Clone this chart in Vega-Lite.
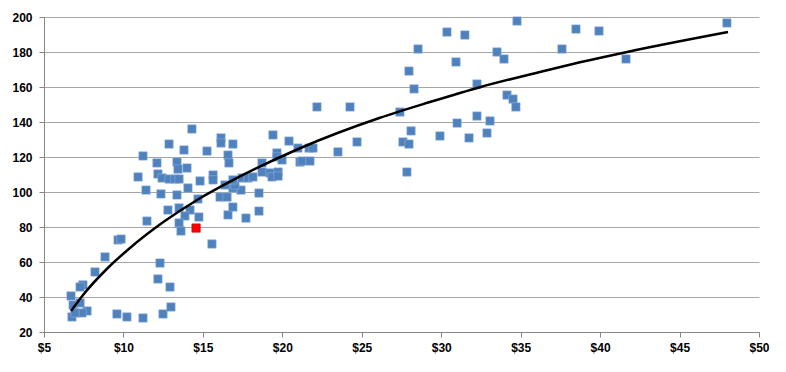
{
  "$schema": "https://vega.github.io/schema/vega-lite/v6.json",
  "width": 715,
  "height": 315,
  "autosize": {"type": "none"},
  "padding": {"left": 44, "top": 17, "right": 27, "bottom": 40},
  "background": "white",
  "config": {
    "view": {"stroke": null},
    "axis": {
      "labelFont": "Liberation Sans",
      "labelFontWeight": "bold",
      "labelFontSize": 12,
      "labelColor": "#000000",
      "labelOverlap": false,
      "labelBound": false,
      "labelFlush": false,
      "domainColor": "#868686",
      "tickColor": "#868686",
      "gridColor": "#A6A6A6",
      "title": null
    }
  },
  "datasets": {
    "points": [
      {"price": 6.70, "value": 40.6, "group": "base"},
      {"price": 6.83, "value": 35.4, "group": "base"},
      {"price": 7.27, "value": 36.6, "group": "base"},
      {"price": 7.71, "value": 32.0, "group": "base"},
      {"price": 7.39, "value": 30.9, "group": "base"},
      {"price": 6.76, "value": 28.6, "group": "base"},
      {"price": 6.95, "value": 30.9, "group": "base"},
      {"price": 7.45, "value": 46.9, "group": "base"},
      {"price": 7.27, "value": 45.7, "group": "base"},
      {"price": 8.21, "value": 54.3, "group": "base"},
      {"price": 8.84, "value": 62.9, "group": "base"},
      {"price": 9.66, "value": 72.6, "group": "base"},
      {"price": 9.85, "value": 73.1, "group": "base"},
      {"price": 9.59, "value": 30.3, "group": "base"},
      {"price": 10.22, "value": 28.6, "group": "base"},
      {"price": 11.23, "value": 28.0, "group": "base"},
      {"price": 12.49, "value": 30.3, "group": "base"},
      {"price": 12.99, "value": 34.3, "group": "base"},
      {"price": 12.30, "value": 59.4, "group": "base"},
      {"price": 12.17, "value": 50.3, "group": "base"},
      {"price": 12.93, "value": 45.7, "group": "base"},
      {"price": 14.31, "value": 136.0, "group": "base"},
      {"price": 12.87, "value": 127.4, "group": "base"},
      {"price": 13.81, "value": 124.0, "group": "base"},
      {"price": 15.26, "value": 123.4, "group": "base"},
      {"price": 16.14, "value": 130.9, "group": "base"},
      {"price": 16.14, "value": 128.0, "group": "base"},
      {"price": 16.89, "value": 127.4, "group": "base"},
      {"price": 11.23, "value": 120.6, "group": "base"},
      {"price": 12.11, "value": 116.6, "group": "base"},
      {"price": 13.37, "value": 117.1, "group": "base"},
      {"price": 13.43, "value": 113.1, "group": "base"},
      {"price": 14.00, "value": 113.7, "group": "base"},
      {"price": 10.92, "value": 108.6, "group": "base"},
      {"price": 12.17, "value": 110.3, "group": "base"},
      {"price": 12.43, "value": 108.0, "group": "base"},
      {"price": 12.87, "value": 107.4, "group": "base"},
      {"price": 13.24, "value": 107.4, "group": "base"},
      {"price": 13.50, "value": 107.4, "group": "base"},
      {"price": 14.82, "value": 106.3, "group": "base"},
      {"price": 15.64, "value": 109.7, "group": "base"},
      {"price": 15.64, "value": 106.9, "group": "base"},
      {"price": 16.58, "value": 121.1, "group": "base"},
      {"price": 16.64, "value": 116.6, "group": "base"},
      {"price": 11.42, "value": 101.1, "group": "base"},
      {"price": 12.36, "value": 98.9, "group": "base"},
      {"price": 13.37, "value": 98.3, "group": "base"},
      {"price": 14.06, "value": 102.3, "group": "base"},
      {"price": 14.69, "value": 96.0, "group": "base"},
      {"price": 12.80, "value": 89.7, "group": "base"},
      {"price": 13.50, "value": 90.9, "group": "base"},
      {"price": 14.19, "value": 89.7, "group": "base"},
      {"price": 13.87, "value": 86.3, "group": "base"},
      {"price": 14.75, "value": 85.7, "group": "base"},
      {"price": 11.48, "value": 83.4, "group": "base"},
      {"price": 13.50, "value": 82.3, "group": "base"},
      {"price": 13.62, "value": 77.7, "group": "base"},
      {"price": 15.57, "value": 70.3, "group": "base"},
      {"price": 16.08, "value": 97.1, "group": "base"},
      {"price": 16.52, "value": 97.1, "group": "base"},
      {"price": 16.58, "value": 86.9, "group": "base"},
      {"price": 16.89, "value": 91.4, "group": "base"},
      {"price": 17.71, "value": 85.1, "group": "base"},
      {"price": 18.53, "value": 89.1, "group": "base"},
      {"price": 17.40, "value": 101.1, "group": "base"},
      {"price": 18.53, "value": 99.4, "group": "base"},
      {"price": 16.89, "value": 102.3, "group": "base"},
      {"price": 16.39, "value": 104.0, "group": "base"},
      {"price": 17.02, "value": 104.0, "group": "base"},
      {"price": 16.89, "value": 106.9, "group": "base"},
      {"price": 17.46, "value": 108.0, "group": "base"},
      {"price": 17.84, "value": 108.0, "group": "base"},
      {"price": 18.15, "value": 108.6, "group": "base"},
      {"price": 18.72, "value": 111.4, "group": "base"},
      {"price": 19.22, "value": 110.9, "group": "base"},
      {"price": 19.35, "value": 108.6, "group": "base"},
      {"price": 19.73, "value": 111.4, "group": "base"},
      {"price": 19.73, "value": 109.1, "group": "base"},
      {"price": 18.72, "value": 116.6, "group": "base"},
      {"price": 19.41, "value": 132.6, "group": "base"},
      {"price": 19.66, "value": 122.3, "group": "base"},
      {"price": 19.66, "value": 120.0, "group": "base"},
      {"price": 19.98, "value": 118.3, "group": "base"},
      {"price": 20.42, "value": 129.1, "group": "base"},
      {"price": 20.98, "value": 125.1, "group": "base"},
      {"price": 21.11, "value": 117.1, "group": "base"},
      {"price": 21.68, "value": 125.1, "group": "base"},
      {"price": 21.93, "value": 125.1, "group": "base"},
      {"price": 21.24, "value": 117.7, "group": "base"},
      {"price": 21.74, "value": 117.7, "group": "base"},
      {"price": 22.18, "value": 148.6, "group": "base"},
      {"price": 24.26, "value": 148.6, "group": "base"},
      {"price": 23.50, "value": 122.9, "group": "base"},
      {"price": 24.70, "value": 128.6, "group": "base"},
      {"price": 27.40, "value": 145.7, "group": "base"},
      {"price": 28.29, "value": 158.9, "group": "base"},
      {"price": 28.10, "value": 134.9, "group": "base"},
      {"price": 27.59, "value": 128.6, "group": "base"},
      {"price": 27.97, "value": 127.4, "group": "base"},
      {"price": 27.84, "value": 111.4, "group": "base"},
      {"price": 27.97, "value": 169.1, "group": "base"},
      {"price": 28.54, "value": 181.7, "group": "base"},
      {"price": 30.36, "value": 191.4, "group": "base"},
      {"price": 31.49, "value": 189.7, "group": "base"},
      {"price": 30.93, "value": 174.3, "group": "base"},
      {"price": 33.51, "value": 180.0, "group": "base"},
      {"price": 33.95, "value": 176.0, "group": "base"},
      {"price": 34.77, "value": 197.7, "group": "base"},
      {"price": 32.25, "value": 161.7, "group": "base"},
      {"price": 34.14, "value": 155.4, "group": "base"},
      {"price": 34.52, "value": 153.1, "group": "base"},
      {"price": 34.70, "value": 148.6, "group": "base"},
      {"price": 29.92, "value": 132.0, "group": "base"},
      {"price": 31.00, "value": 139.4, "group": "base"},
      {"price": 32.25, "value": 143.4, "group": "base"},
      {"price": 33.07, "value": 140.6, "group": "base"},
      {"price": 31.75, "value": 130.9, "group": "base"},
      {"price": 32.88, "value": 133.7, "group": "base"},
      {"price": 37.60, "value": 181.7, "group": "base"},
      {"price": 38.48, "value": 193.1, "group": "base"},
      {"price": 39.93, "value": 192.0, "group": "base"},
      {"price": 41.63, "value": 176.0, "group": "base"},
      {"price": 47.98, "value": 196.6, "group": "base"},
      {"price": 14.57, "value": 79.4, "group": "highlight"}
    ],
    "trend": [
      {"price": 6.70, "value": 32.0},
      {"price": 7.47, "value": 41.3},
      {"price": 8.95, "value": 56.0},
      {"price": 10.41, "value": 68.0},
      {"price": 12.51, "value": 82.8},
      {"price": 14.61, "value": 95.3},
      {"price": 16.71, "value": 105.9},
      {"price": 21.11, "value": 125.0},
      {"price": 26.15, "value": 142.4},
      {"price": 29.29, "value": 151.4},
      {"price": 32.44, "value": 159.9},
      {"price": 36.21, "value": 168.6},
      {"price": 38.73, "value": 174.1},
      {"price": 41.63, "value": 179.9},
      {"price": 48.05, "value": 191.4}
    ]
  },
  "layer": [
    {
      "data": {"name": "points"},
      "mark": {"type": "point", "shape": "square", "filled": true, "size": 70, "opacity": 1, "strokeWidth": 0.6},
      "encoding": {
        "x": {
          "field": "price", "type": "quantitative",
          "scale": {"domain": [5, 50], "nice": false, "zero": false},
          "axis": {"values": [5, 10, 15, 20, 25, 30, 35, 40, 45, 50], "tickCount": 10, "labelExpr": "'$' + datum.value", "grid": false, "tickSize": 5, "labelPadding": 5, "domainWidth": 1}
        },
        "y": {
          "field": "value", "type": "quantitative",
          "scale": {"domain": [20, 200], "nice": false, "zero": false},
          "axis": {"values": [20, 40, 60, 80, 100, 120, 140, 160, 180, 200], "tickCount": 10, "grid": true, "tickSize": 5, "labelPadding": 7}
        },
        "color": {"field": "group", "type": "nominal", "scale": {"domain": ["base", "highlight"], "range": ["#4F81BD", "#FF0000"]}, "legend": null},
        "stroke": {"field": "group", "type": "nominal", "scale": {"domain": ["base", "highlight"], "range": ["#8FAEDA", "#C00000"]}, "legend": null}
      }
    },
    {
      "data": {"name": "trend"},
      "mark": {"type": "line", "color": "#000000", "strokeWidth": 2.5, "interpolate": "monotone"},
      "encoding": {
        "x": {"field": "price", "type": "quantitative"},
        "y": {"field": "value", "type": "quantitative"}
      }
    }
  ]
}
